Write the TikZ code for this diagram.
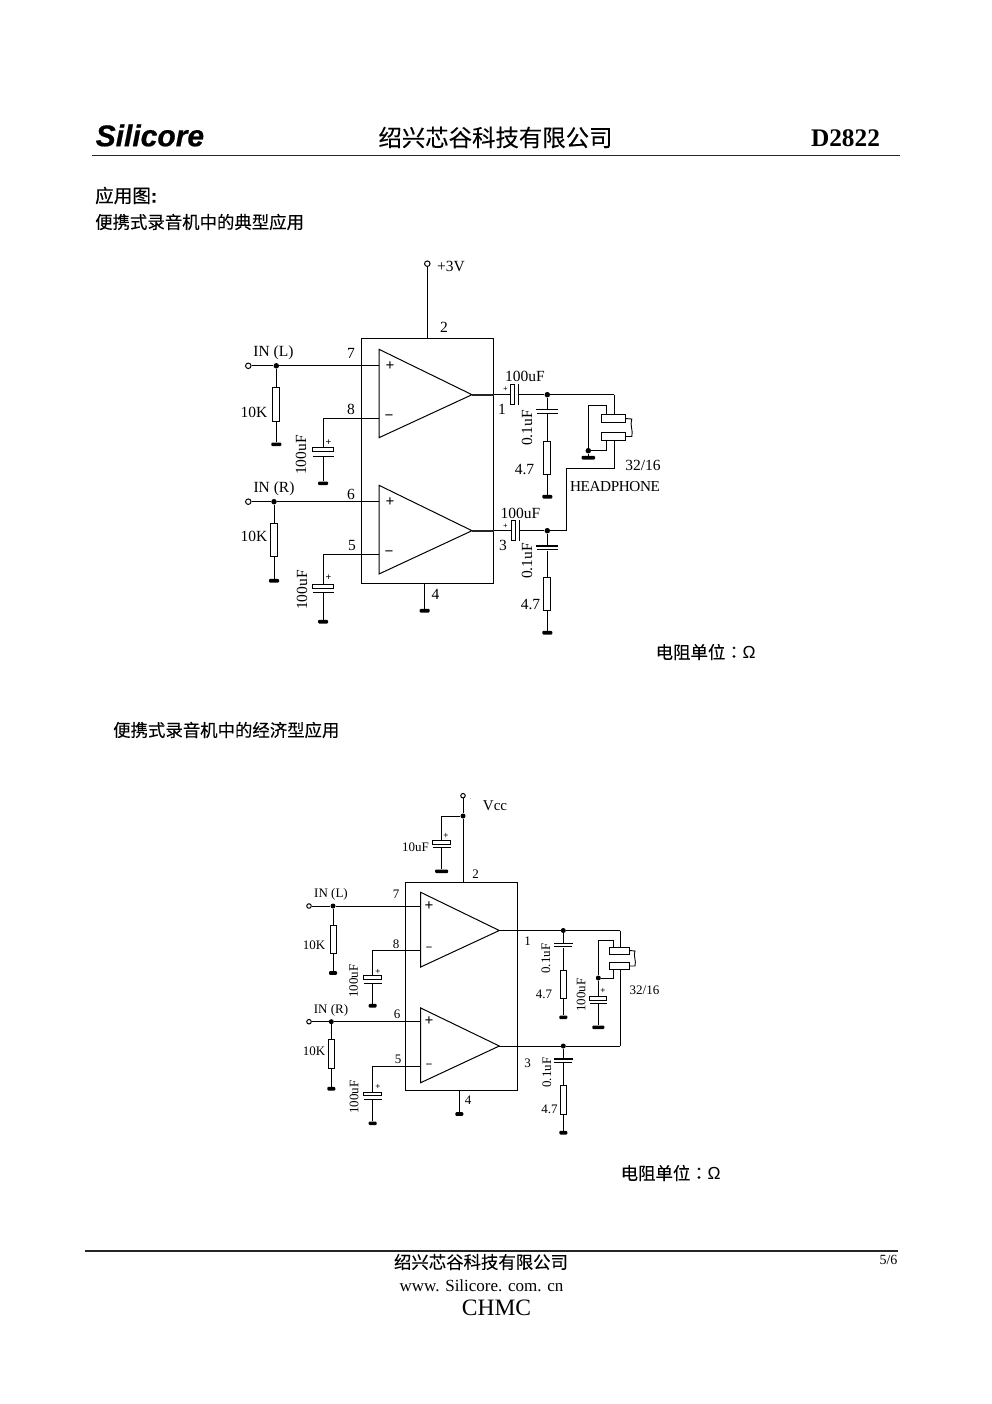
\documentclass[tikz,border=0pt]{standalone}
\usepackage{fontspec}
\setmainfont{Liberation Serif}
\newfontfamily\cjk[FakeBold=0.12]{Noto Sans CJK SC}
\newfontfamily\cjkh[FakeBold=0.4]{Noto Sans CJK SC}
\newfontfamily\cjkt[FakeBold=0.12]{Noto Sans CJK TC}
\newfontfamily\hsans{Liberation Sans}
\newfontfamily\hlogo[FakeBold=0.6]{Liberation Sans}
\tikzset{
  wire/.style={line width=1pt,black},
  pin/.style={inner sep=0pt,yshift=-0.8pt,font=\fontsize{#1}{#1}\selectfont,text=black},
  pin/.default=15.5,
  rot/.style={yshift=0.8pt,rotate=90},
  cn/.style={inner sep=0pt,font=\cjk\fontsize{#1}{#1}\selectfont,text=black},
  box/.style={draw=black,line width=1pt,fill=white,inner sep=0pt,rectangle},
  term/.style={draw=black,line width=1pt,fill=white,circle,inner sep=0pt,minimum size=5.5pt},
  dotn/.style={fill=black,circle,inner sep=0pt,minimum size=5.5pt},
  gndn/.style={fill=black,rounded corners=1pt,inner sep=0pt,rectangle,minimum height=3.6pt},
  plate/.style={fill=black,inner sep=0pt,rectangle},
  pol/.style={inner sep=0pt,font=\bfseries\fontsize{#1}{#1}\selectfont},
  pol/.default=10,
  opm/.style={inner sep=0pt,font=\bfseries\fontsize{15.5}{15.5}\selectfont,text=black},
}
% \rs name x y1 y2 width: vertical resistor
\newcommand{\rs}[5]{\node[box,minimum width=#5pt,minimum height={(#4-#3)*1pt}] (#1) at (#2,{(#3+#4)/2}) {};}
% \vc name x ytop ybox ybot halfwidth: polarised vertical capacitor
\newcommand{\vc}[6]{%
  \node[box,minimum width={2*#6pt},minimum height={(#4-#3)*1pt}] (#1a) at (#2,{(#3+#4)/2}) {};
  \node[plate,minimum width={2*#6pt},minimum height=1pt] (#1b) at (#2,#5) {};}
% \gn name x y width
\newcommand{\gn}[4]{\node[gndn,minimum width=#4pt] (#1) at (#2,#3) {};}
\begin{document}
\begin{tikzpicture}[x=1pt,y=-1pt]
\fill[white] (0,0) rectangle (992,1404);
\useasboundingbox (0,0) rectangle (992,1404);
% ---------- page furniture
\node[inner sep=0pt,anchor=west,font=\hlogo\bfseries\itshape\fontsize{30}{30}\selectfont] (logo) at (95.5,135.5) {Silicore};
\node[cn=23.4] (corp) at (495.5,137.5) {绍兴芯谷科技有限公司};
\node[inner sep=0pt,font=\bfseries\fontsize{25.3}{25.3}\selectfont] (part) at (845.5,138) {D2822};
\coordinate (rhl) at (92,155.5); \coordinate (rhr) at (900,155.5);
\draw[line width=1.3pt,black!85] (rhl) -- (rhr);
\node[cn=18.6,anchor=west,font=\cjkh\fontsize{18.6}{18.6}\selectfont] (t1) at (95,195.5) {应用图\hlogo\bfseries:};
\node[cn=17.4,anchor=west] (t2) at (95,222) {便携式录音机中的典型应用};
\node[cn=17.4,anchor=west] (t3) at (113,730) {便携式录音机中的经济型应用};
\node[cn=17.4,anchor=west] (u1) at (655.5,652) {电阻单位{\cjkt ：}\hsans Ω};
\node[cn=17.4,anchor=west] (u2) at (620.5,1173) {电阻单位{\cjkt ：}\hsans Ω};
\coordinate (rfl) at (85,1251); \coordinate (rfr) at (898,1251);
\draw[line width=1.2pt,black!85] (rfl) -- (rfr);
\node[cn=17.4] (f1) at (481,1262) {绍兴芯谷科技有限公司};
\node[pin=17] (f2) at (481.5,1284.5) {www. Silicore. com. cn};
\node[pin=23.5] (f3) at (496.5,1307.5) {CHMC};
\node[pin=14] (f4) at (888.5,1259.5) {5/6};

% ========== CIRCUIT 1
\node[box,fill=none,minimum width=131.3pt,minimum height=244.7pt] (ic) at (427.35,460.65) {};
\coordinate (a1t) at (379,349.3); \coordinate (a1b) at (379,437.7); \coordinate (a1o) at (472,394.7);
\coordinate (a2t) at (379,485.3); \coordinate (a2b) at (379,574); \coordinate (a2o) at (472,530.7);
\draw[wire,fill=white] (a1t) -- (a1o) -- (a1b) -- cycle;
\draw[wire,fill=white] (a2t) -- (a2o) -- (a2b) -- cycle;
\coordinate (a1p) at (379,365.8); \coordinate (a1n) at (379,418);
\coordinate (a2p) at (379,501.7); \coordinate (a2n) at (379,554.3);
\coordinate (icv) at (427.3,338.3); \coordinate (icg) at (424.7,583);
% supply
\node[term] (v1) at (427.3,263.7) {};
\draw[wire] (v1) -- (icv);
\node[pin] (lv1) at (451,265.5) {+3V};
\node[pin] (p2) at (444,326.5) {2};
% IN L
\node[term] (tl) at (248.3,365.8) {}; \node[dotn] (dl) at (276.3,365.8) {};
\draw[wire] (tl) -- (dl) -- (a1p);
\rs{rl}{276.3}{387.7}{421.7}{7}
\gn{gl}{276.3}{444.3}{10}
\draw[wire] (dl) -- (rl.north); \draw[wire] (rl) -- (gl);
\node[pin] (ll) at (273.5,352) {IN (L)};
\node[pin] (p7) at (351,352.5) {7};
\node[pin] (p8) at (351,408.5) {8};
\node[pin] (l10a) at (254,411.5) {10K};
% pin 8
\coordinate (c8) at (323,418);
\vc{ca}{323}{447.7}{451.7}{456}{10.5}
\gn{ga}{323}{483.3}{10}
\draw[wire] (a1n) -- (c8) -- (caa.north);
\draw[wire] (cab) -- (ga);
\node[pin,rot] (lca) at (301,455) {100uF};
\node[pol] (pa) at (328.5,442.5) {+};
\node[opm] (a1pl) at (390,366) {+}; \node[opm] (a1mi) at (389,417.5) {−};
% IN R
\node[term] (tr) at (248.3,501.7) {}; \node[dotn] (dr) at (274,501.7) {};
\draw[wire] (tr) -- (dr) -- (a2p);
\rs{rr}{274}{523.3}{556.7}{7}
\gn{gr}{274}{580.7}{10}
\draw[wire] (dr) -- (rr.north); \draw[wire] (rr) -- (gr);
\node[pin] (lr) at (274,488) {IN (R)};
\node[pin] (p6) at (351,494) {6};
\node[pin] (p5) at (352,544.5) {5};
\node[pin] (l10b) at (254,536) {10K};
% pin 5
\coordinate (c5) at (323,554.3);
\vc{cb}{323}{584.3}{588}{592.3}{10.5}
\gn{gb}{323}{621.7}{10}
\draw[wire] (a2n) -- (c5) -- (cba.north);
\draw[wire] (cbb) -- (gb);
\node[pin,rot] (lcb) at (302,590) {100uF};
\node[pol] (pb) at (328.5,578) {+};
\node[opm] (a2pl) at (390,501.7) {+}; \node[opm] (a2mi) at (389,553.5) {−};
% pin 4
\gn{g4}{424.7}{610.7}{10}
\draw[wire] (icg) -- (g4);
\node[pin] (p4) at (435.5,594) {4};
% output 1
\node[box,minimum width=3.8pt,minimum height=20.7pt] (o1a) at (512.6,394.4) {};
\node[plate,minimum width=1pt,minimum height=20.7pt] (o1b) at (518.7,394.4) {};
\node[dotn] (d1) at (547.3,394.7) {};
\coordinate (h1) at (614.3,394.7);
\draw[wire] (a1o) -- (o1a.west |- a1o);
\draw[wire] (o1b.east |- a1o) -- (d1) -- (h1);
\draw[line width=1.6pt,black!85] (a1o) -- ++(22,0);
\vc{c1}{547.3}{409.3}{409.9}{413.6}{10.5}
\rs{r1}{547.3}{441.3}{474.3}{7}
\gn{g1}{547.3}{496.7}{10}
\draw[wire] (d1) -- (c1a.north); \draw[wire] (c1b) -- (r1.north); \draw[wire] (r1.south) -- (g1);
\node[pin] (l100a) at (525,376) {100uF};
\node[pol=8] (po1) at (505.5,389.5) {+};
\node[pin] (p1) at (502,409) {1};
\node[pin,rot] (l01a) at (527,428) {0.1uF};
\node[pin] (l47a) at (524.5,469) {4.7};
% headphone
\node[box,minimum width=23.6pt,minimum height=8pt] (hp1) at (613.5,418.3) {};
\node[box,minimum width=23.6pt,minimum height=8pt] (hp2) at (613.5,436.3) {};
\coordinate (ht) at (588.3,405.7); \coordinate (htr) at (606,405.7); \coordinate (hbr) at (606,450.7);
\node[dotn] (hd) at (588.3,450.7) {};
\gn{hg}{588.3}{457.7}{13.5}
\coordinate (h1a) at (614.3,414.3); \coordinate (h2a) at (614.3,440.3);
\coordinate (hr1) at (614.3,468.3); \coordinate (hr2) at (566.3,468.3); \coordinate (hr3) at (566.3,530.7);
\coordinate (htb) at (606,414.3); \coordinate (hbt) at (606,440.3);
\draw[wire] (h1) -- (h1a);
\draw[wire] (h2a) -- (hr1) -- (hr2) -- (hr3);
\draw[wire] (hg) -- (hd) -- (ht) -- (htr) -- (htb);
\draw[wire] (hbt) -- (hbr) -- (hd);
\coordinate (hw1) at (625.3,418.5); \coordinate (hw2) at (625.3,436.5);
\coordinate (hw1b) at (631.8,419); \coordinate (hw2b) at (631.8,436.5);
\draw[wire,line width=.9pt] (hw1) -- (hw1b) .. controls (629.5,425) and (633.5,431) .. (hw2b) -- (hw2);
\node[pin] (l32a) at (643,465) {32/16};
\node[pin=15.2] (lhp) at (615,486) {\addfontfeatures{LetterSpace=-2.5}HEADPHONE};
% output 2
\node[box,minimum width=3.8pt,minimum height=20.7pt] (o2a) at (513.2,530.5) {};
\node[plate,minimum width=1pt,minimum height=20.7pt] (o2b) at (519.3,530.5) {};
\node[dotn] (d2) at (547.3,530.7) {};
\draw[wire] (a2o) -- (o2a.west |- a2o);
\draw[wire] (o2b.east |- a2o) -- (d2) -- (hr3);
\draw[line width=1.6pt,black!85] (a2o) -- ++(22,0);
\vc{c2}{547.3}{545.7}{546.3}{549.9}{10.5}
\rs{r2}{547.3}{577.3}{610.3}{7}
\gn{g2}{547.3}{632.7}{10}
\draw[wire] (d2) -- (c2a.north); \draw[wire] (c2b) -- (r2.north); \draw[wire] (r2.south) -- (g2);
\node[pin] (l100b) at (520.5,512.5) {100uF};
\node[pol=8] (po2) at (505.5,526) {+};
\node[pin] (p3) at (503,545) {3};
\node[pin,rot] (l01b) at (527,561) {0.1uF};
\node[pin] (l47b) at (530.5,604) {4.7};

% ========== CIRCUIT 2
\node[box,fill=none,minimum width=112pt,minimum height=207.3pt] (jc) at (461.3,986.35) {};
\coordinate (b1t) at (420.7,892.3); \coordinate (b1b) at (420.7,967); \coordinate (b1o) at (499.3,930.5);
\coordinate (b2t) at (420.7,1008); \coordinate (b2b) at (420.7,1082.7); \coordinate (b2o) at (499.3,1046);
\draw[wire,fill=white] (b1t) -- (b1o) -- (b1b) -- cycle;
\draw[wire,fill=white] (b2t) -- (b2o) -- (b2b) -- cycle;
\coordinate (b1p) at (420.7,906); \coordinate (b1n) at (420.7,950);
\coordinate (b2p) at (420.7,1021.7); \coordinate (b2n) at (420.7,1066);
\coordinate (jcv) at (463,882.7); \coordinate (jcg) at (459.3,1090);
% supply
\node[term,minimum size=4.5pt] (v2) at (463,795.7) {};
\node[dotn,minimum size=5pt] (dv) at (463,816) {};
\draw[wire] (v2) -- (dv) -- (jcv);
\coordinate (cvt) at (441.7,816);
\vc{cv}{441.7}{840.7}{844}{847.2}{9}
\gn{gv}{441.7}{871.3}{13}
\draw[wire] (dv) -- (cvt) -- (cva.north);
\draw[wire] (cvb) -- (gv);
\node[pin=15] (lvcc) at (495,804.5) {Vcc};
\node[pin=5] (speck) at (470.5,798.5) {.};
\node[pin=13] (l10u) at (415.5,846) {10uF};
\node[pol=9] (pv) at (446,835.7) {+};
\node[pin=13] (q2) at (475.5,873) {2};
% IN L
\node[term,minimum size=4.5pt] (sl) at (309,906) {}; \node[dotn,minimum size=5pt] (el) at (333,906) {};
\draw[wire] (sl) -- (el) -- (b1p);
\rs{sr1}{333}{925}{953}{6}
\gn{sg1}{333}{973}{8}
\draw[wire] (el) -- (sr1.north); \draw[wire] (sr1.south) -- (sg1);
\node[pin=13] (ql) at (331,894) {IN (L)};
\node[pin=13] (q7) at (396,893.5) {7};
\node[pin=13] (q8) at (396,943) {8};
\node[pin=13] (q10a) at (314,944.5) {10K};
\coordinate (k8) at (372.7,950);
\vc{sa}{372.7}{975.7}{979}{983}{9}
\gn{ga2}{372.7}{1005.7}{8}
\draw[wire] (b1n) -- (k8) -- (saa.north);
\draw[wire] (sab) -- (ga2);
\node[pin=13,rot] (qca) at (353.5,981) {100uF};
\node[pol=9] (pq1) at (378,971.5) {+};
\node[opm] (b1pl) at (429,906.5) {+}; \node[opm,font=\bfseries\fontsize{12}{12}\selectfont] (b1mi) at (429,949) {−};
% IN R
\node[term,minimum size=4.5pt] (sl2) at (309,1021.7) {}; \node[dotn,minimum size=5pt] (er) at (331.3,1021.7) {};
\draw[wire] (sl2) -- (er) -- (b2p);
\rs{sr2}{331.3}{1039.7}{1068}{6}
\gn{sg2}{331.3}{1088.7}{8}
\draw[wire] (er) -- (sr2.north); \draw[wire] (sr2.south) -- (sg2);
\node[pin=13] (qr) at (331,1010) {IN (R)};
\node[pin=13] (q6) at (397,1013) {6};
\node[pin=13] (q5) at (398,1058) {5};
\node[pin=13] (q10b) at (314,1050.5) {10K};
\coordinate (k5) at (372.7,1066);
\vc{sb}{372.7}{1092}{1095.7}{1099.3}{9}
\gn{gb2}{372.7}{1123.3}{8}
\draw[wire] (b2n) -- (k5) -- (sba.north);
\draw[wire] (sbb) -- (gb2);
\node[pin=13,rot] (qcb) at (354,1097) {100uF};
\node[pol=9] (pq2) at (378,1087) {+};
\node[opm] (b2pl) at (429,1021.5) {+}; \node[opm,font=\bfseries\fontsize{12}{12}\selectfont] (b2mi) at (429,1066) {−};
% pin 4
\gn{g42}{459.3}{1114}{8}
\draw[wire] (jcg) -- (g42);
\node[pin=13] (q4) at (468,1099.5) {4};
% outputs
\node[dotn,minimum size=5pt] (e1) at (563.3,930.5) {};
\node[dotn,minimum size=5pt] (e2) at (563.3,1046) {};
\coordinate (j1) at (620.3,930.5); \coordinate (j2) at (620.3,1046);
\draw[wire] (b1o) -- (e1) -- (j1);
\draw[wire] (b2o) -- (e2) -- (j2);
\vc{u1c}{563.3}{943}{943.6}{946.9}{9}
\rs{u1r}{563.3}{970}{998.3}{6}
\gn{u1g}{563.3}{1017.3}{8}
\draw[wire] (e1) -- (u1ca.north); \draw[wire] (u1cb) -- (u1r.north); \draw[wire] (u1r.south) -- (u1g);
\vc{u2c}{563.3}{1058.7}{1059.3}{1062.2}{9}
\rs{u2r}{563.3}{1085.7}{1114.3}{6}
\gn{u2g}{563.3}{1132.7}{8}
\draw[wire] (e2) -- (u2ca.north); \draw[wire] (u2cb) -- (u2r.north); \draw[wire] (u2r.south) -- (u2g);
\node[pin=13] (q1) at (527.5,940) {1};
\node[pin=13] (q3) at (527.5,1062) {3};
\node[pin=13,rot] (q01a) at (546,958.5) {0.1uF};
\node[pin=13,rot] (q01b) at (547,1072.5) {0.1uF};
\node[pin=13] (q47a) at (544,994) {4.7};
\node[pin=13] (q47b) at (549.5,1108.5) {4.7};
% headphone
\node[box,minimum width=20pt,minimum height=6.3pt] (jp1) at (619.7,950.9) {};
\node[box,minimum width=20pt,minimum height=6.3pt] (jp2) at (619.7,965.9) {};
\coordinate (j1a) at (620.3,947.7); \coordinate (j2a) at (620.3,969);
\draw[wire] (j1) -- (j1a);
\draw[wire] (j2a) -- (j2);
\coordinate (mt) at (598.3,940); \coordinate (mtr) at (613.3,940); \coordinate (mtb) at (613.3,947.7);
\coordinate (mbt) at (613.3,969); \coordinate (mbr) at (613.3,978);
\node[dotn,minimum size=5pt] (md) at (598.3,978) {};
\draw[wire] (md) -- (mt) -- (mtr) -- (mtb);
\draw[wire] (mbt) -- (mbr) -- (md);
\vc{mc}{598.3}{996.7}{1000}{1003.5}{8.5}
\gn{mg}{598.3}{1027.3}{12}
\draw[wire] (md) -- (mca.north); \draw[wire] (mcb) -- (mg);
\coordinate (jw1) at (629.7,950.5); \coordinate (jw2) at (629.7,966);
\coordinate (jw1b) at (635,951); \coordinate (jw2b) at (635,966);
\draw[wire,line width=.9pt] (jw1) -- (jw1b) .. controls (633,955) and (636.5,961) .. (jw2b) -- (jw2);
\node[pin=13,rot] (qc3) at (581,995) {100uF};
\node[pol=9] (pq3) at (603,991) {+};
\node[pin=13] (q32) at (644.5,989.5) {32/16};
\end{tikzpicture}
\end{document}
